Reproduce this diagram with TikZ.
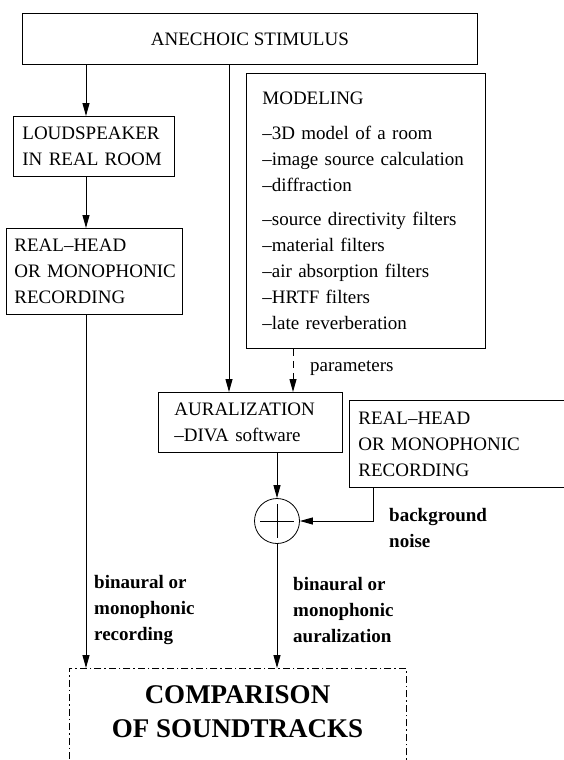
\documentclass[tikz,border=0pt]{standalone}
\usepackage{fontspec}
\setmainfont{Liberation Serif}
\usetikzlibrary{arrows.meta,positioning}

\begin{document}
\begin{tikzpicture}[x=1pt,y=-1pt,>={Triangle[length=13pt,width=7pt]},
    box/.style={draw,line width=0.8pt,anchor=north west,inner ysep=0pt,align=left,font=\fontsize{19}{26}\selectfont},
    lbl/.style={anchor=west,inner sep=2pt,align=left,font=\fontsize{19}{26}\selectfont\bfseries},
    flow/.style={->,line width=1pt}]

        \useasboundingbox (0,0) rectangle (564,760);
        \clip (0,0) rectangle (564,760);

        % boxes
        \node[box,align=center,minimum width=455,minimum height=51] (stim) at (22,13) {ANECHOIC STIMULUS};
        \node[box,inner xsep=9pt,text width=143,minimum height=60] (spk) at (13,116) {LOUDSPEAKER\\IN REAL ROOM};
        \node[box,inner xsep=8pt,text width=160,minimum height=86] (recl) at (6,228) {REAL--HEAD\\\mbox{OR MONOPHONIC}\\RECORDING};
        \node[box,inner xsep=16pt,text width=207,minimum height=275] (mod) at (246,73) {MODELING\\[9pt]--3D model of a room\\--image source calculation\\--diffraction\\[8pt]--source directivity filters\\--material filters\\--air absorption filters\\--HRTF filters\\--late reverberation};
        \node[box,inner xsep=16pt,text width=152,minimum height=60] (aur) at (158,392) {AURALIZATION\\--DIVA software};
        \node[box,inner xsep=9pt,text width=232,minimum height=87] (recr) at (349,400) {REAL--HEAD\\OR MONOPHONIC\\RECORDING};
        \node[draw,circle,line width=0.8pt,minimum size=45] (sum) at (277,521) {};
        \draw[line width=0.8pt] ([yshift=-6]sum.north) -- ([yshift=6]sum.south);
        \draw[line width=0.8pt] ([xshift=6]sum.west) -- ([xshift=-6]sum.east);
        \node[draw,line width=0.8pt,dash pattern=on 7pt off 3pt on 1.5pt off 3pt,anchor=north,
              minimum width=337,inner ysep=17pt,text depth=70pt,align=center,
              font=\fontsize{27}{34}\selectfont\bfseries] (cmp) at (237.5,668) {COMPARISON\\OF SOUNDTRACKS};

        % columns
        \coordinate (lcol) at (86,0);
        \coordinate (mcol) at (229,0);
        \coordinate (pcol) at (293,0);
        \coordinate (rcol) at (373,0);

        % connectors
        \draw[flow] (lcol |- stim.south) -- (lcol |- spk.north);
        \draw[flow] (lcol |- spk.south) -- (lcol |- recl.north);
        \draw[flow] (lcol |- recl.south) -- (lcol |- cmp.north);
        \draw[flow] (mcol |- stim.south) -- (mcol |- aur.north);
        \draw[flow,dash pattern=on 7pt off 5pt] (pcol |- mod.south) -- (pcol |- aur.north);
        \draw[flow] (sum |- aur.south) -- (sum.north);
        \draw[flow] (rcol |- recr.south) -- (rcol |- sum) -- (sum.east);
        \draw[flow] (sum.south) -- (sum |- cmp.north);

        % labels
        \node[anchor=west,inner sep=2pt,font=\fontsize{19}{26}\selectfont] (par) at (308,368) {parameters};
        \node[lbl] (noise) at (387,528) {background\\noise};
        \node[lbl] (recLbl) at (92,610) {binaural or\\monophonic\\recording};
        \node[lbl] (aurLbl) at (291,610) {binaural or\\monophonic\\auralization};

\end{tikzpicture}
\end{document}
